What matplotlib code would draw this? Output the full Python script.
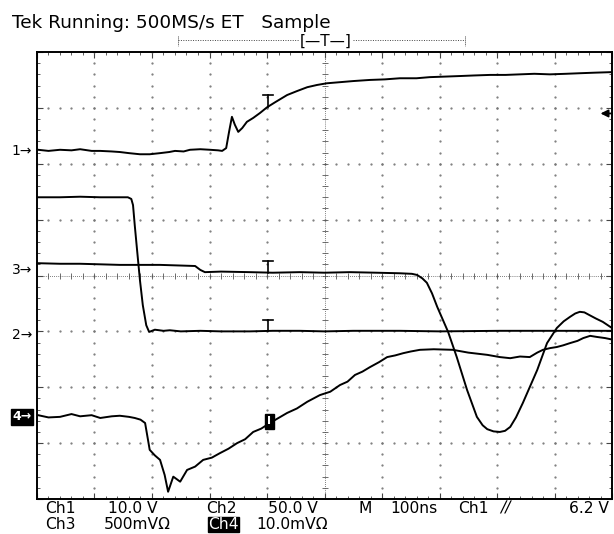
import numpy as np
import matplotlib
matplotlib.use("Agg")
import matplotlib.pyplot as plt
from matplotlib.lines import Line2D

# time in ns (100 ns/div, screen center = 0), level in divisions from screen center
ch1_t = [-498, -480, -460, -440, -425, -405, -390, -370, -356, -340, -321, -304, -286, -270, -260,
         -245, -234, -216, -199, -185, -178, -171, -166, -161, -156, -150, -143, -135, -124, -112,
         -100, -86, -65, -48, -30, -13, 4, 27, 50, 79, 105, 131, 160, 183, 210,
         236, 260, 288, 315, 340, 365, 392, 420, 444, 470, 500]
ch1_v = [2.25, 2.23, 2.25, 2.24, 2.26, 2.23, 2.23, 2.22, 2.21, 2.19, 2.17, 2.17, 2.19, 2.21, 2.23,
         2.22, 2.25, 2.26, 2.25, 2.24, 2.23, 2.28, 2.57, 2.84, 2.70, 2.57, 2.64, 2.75, 2.82, 2.91,
         3.01, 3.10, 3.23, 3.30, 3.37, 3.41, 3.44, 3.46, 3.48, 3.50, 3.51, 3.53, 3.53, 3.55, 3.56,
         3.57, 3.58, 3.59, 3.59, 3.60, 3.61, 3.60, 3.61, 3.62, 3.63, 3.64]

ch2_t = [-498, -460, -425, -390, -356, -342, -336, -333, -330, -326, -321, -316, -310, -305, -295,
         -280, -269, -250, -216, -180, -130, -90, -43, 0, 50, 131, 200, 305, 400, 500]
ch2_v = [1.40, 1.40, 1.41, 1.40, 1.40, 1.40, 1.37, 1.26, 0.90, 0.46, -0.08, -0.53, -0.89, -1.01, -0.97,
         -0.99, -0.98, -1.00, -0.99, -1.00, -1.00, -0.99, -0.99, -1.00, -0.99, -0.99, -1.00, -0.99, -0.99, -0.99]

ch3_t = [-498, -460, -425, -390, -356, -320, -286, -255, -225, -216, -208, -180, -130, -90, -43,
         0, 44, 90, 131, 152, 161, 170, 178, 187, 196, 215, 230, 248, 265, 275, 283, 294, 305, 314, 323, 333, 345,
         370, 387, 404, 416, 427, 436, 444, 452, 461, 472, 484, 500]
ch3_v = [0.22, 0.21, 0.21, 0.20, 0.19, 0.19, 0.19, 0.18, 0.17, 0.10, 0.06, 0.07, 0.06, 0.05, 0.06,
         0.05, 0.06, 0.05, 0.04, 0.03, 0.01, -0.05, -0.13, -0.32, -0.56, -1.01, -1.46, -2.05, -2.53, -2.68, -2.75, -2.79, -2.80, -2.78, -2.71, -2.54, -2.28,
         -1.69, -1.21, -0.94, -0.82, -0.74, -0.68, -0.65, -0.66, -0.71, -0.77, -0.83, -0.94]

ch4_t = [-498, -480, -460, -440, -425, -405, -390, -370, -356, -340, -330, -320, -312, -304, -295,
         -286, -278, -272, -263, -251, -239, -225, -211, -196, -182, -167, -152, -138, -124, -110,
         -95, -80, -65, -48, -30, -8, 10, 27, 40, 53, 66, 79, 95, 109, 123,
         137, 150, 166, 190, 223, 250, 283, 305, 323, 340, 357, 370, 380, 392, 404,
         415, 427, 440, 450, 462, 474, 488, 502]
ch4_v = [-2.50, -2.54, -2.53, -2.48, -2.52, -2.50, -2.55, -2.52, -2.51, -2.53, -2.55, -2.58, -2.64, -3.12, -3.22,
         -3.30, -3.57, -3.87, -3.60, -3.69, -3.48, -3.42, -3.30, -3.26, -3.18, -3.10, -3.00, -2.93, -2.80, -2.74,
         -2.64, -2.55, -2.46, -2.38, -2.26, -2.14, -2.08, -1.96, -1.90, -1.78, -1.72, -1.64, -1.55, -1.46, -1.43,
         -1.39, -1.36, -1.33, -1.32, -1.33, -1.38, -1.42, -1.46, -1.48, -1.45, -1.46, -1.38, -1.33, -1.30, -1.28,
         -1.25, -1.21, -1.17, -1.12, -1.08, -1.10, -1.12, -1.15]

# ground reference markers (divisions) and trigger level
ground_labels = ["1", "3", "2", "4"]
ground_levels = [2.23, 0.10, -1.06, -2.53]
trig_level = 2.90
t_marker = -98

W, H = 614, 534
fig = plt.figure(figsize=(W / 100, H / 100), dpi=100)
fig.patch.set_facecolor("white")
ax = fig.add_axes([37 / W, 35 / H, 575 / W, 447 / H])
ax.set_xlim(-500, 500)
ax.set_ylim(-4, 4)

# graticule: dotted division lines
dots = np.arange(-500, 501, 20)
for gx in range(-400, 401, 100):
    if gx != 0:
        ax.plot(np.full(41, gx), np.arange(-4, 4.01, 0.2), ls="none", marker=".", ms=1.2, color="#777")
for gy in range(-3, 4):
    if gy != 0:
        ax.plot(dots, np.full(len(dots), gy), ls="none", marker=".", ms=1.2, color="#777")
# center lines with cross ticks
ax.axhline(0, color="#555", lw=0.6, ls=(0, (1, 1.5)))
ax.axvline(0, color="#555", lw=0.6, ls=(0, (1, 1.5)))
ax.plot(dots, np.zeros(len(dots)), ls="none", marker="|", ms=4, mew=0.6, color="#555")
ax.plot(np.zeros(41), np.arange(-4, 4.01, 0.2), ls="none", marker="_", ms=4, mew=0.6, color="#555")

ax.set_xticks(np.arange(-500, 501, 100))
ax.set_xticks(dots, minor=True)
ax.set_yticks(np.arange(-4, 5, 1))
ax.set_yticks(np.arange(-4, 4.01, 0.2), minor=True)
ax.tick_params(which="both", direction="in", top=True, right=True,
               labelbottom=False, labelleft=False, color="#444")
ax.tick_params(which="major", length=4, width=0.8)
ax.tick_params(which="minor", length=2.5, width=0.6)
for sp in ax.spines.values():
    sp.set_linewidth(1.4)

# traces
for t, v in [(ch1_t, ch1_v), (ch2_t, ch2_v), (ch3_t, ch3_v), (ch4_t, ch4_v)]:
    ax.plot(t, v, color="black", lw=1.4, clip_on=True)

# 'T' markers on traces
for t, v in [(ch1_t, ch1_v), (ch3_t, ch3_v), (ch2_t, ch2_v)]:
    lv = np.interp(t_marker, t, v)
    ax.plot([t_marker, t_marker], [lv, lv + 0.2], color="black", lw=1.2)
    ax.plot([t_marker - 9, t_marker + 9], [lv + 0.2, lv + 0.2], color="black", lw=1.2)
lv4 = np.interp(t_marker, ch4_t, ch4_v)
ax.text(t_marker + 2, lv4 + 0.05, "I", color="white", fontsize=8, fontweight="bold",
        ha="center", va="center",
        bbox=dict(boxstyle="square,pad=0.25", fc="black", ec="black"))

# ground markers on the left
for lab, lv in zip(ground_labels, ground_levels):
    if lab == "4":
        ax.annotate("4\u2192", xy=(0, lv), xycoords=("axes fraction", "data"),
                    xytext=(-11, 0), textcoords="offset points", ha="center", va="center",
                    fontsize=9, fontweight="bold", color="white",
                    bbox=dict(boxstyle="square,pad=0.1", fc="black", ec="black"),
                    annotation_clip=False)
    else:
        ax.annotate(lab + "\u2192", xy=(0, lv), xycoords=("axes fraction", "data"),
                    xytext=(-11, 0), textcoords="offset points", ha="center", va="center",
                    fontsize=10, annotation_clip=False)

# trigger level arrow on the right
ax.annotate("", xy=(480, trig_level), xytext=(500, trig_level),
            arrowprops=dict(arrowstyle="-|>", color="black", lw=1.3, mutation_scale=11,
                            shrinkA=0, shrinkB=0),
            annotation_clip=False)

# header
def ftext(px, py, s, **kw):
    fig.text(px / W, 1 - py / H, s, **kw)

ftext(12, 28, "Tek Running: 500MS/s ET   Sample", fontsize=13.3, va="baseline")
fig.add_artist(Line2D([178 / W, 465 / W], [1 - 40 / H, 1 - 40 / H], color="#444", lw=0.7,
                      ls=(0, (1, 1.5))))
for bx in [178, 465]:
    fig.add_artist(Line2D([bx / W, bx / W], [1 - 36 / H, 1 - 46 / H], color="#444", lw=0.7,
                          ls=(0, (1, 1))))
ftext(326, 41, "[\u2014T\u2014]", fontsize=11, ha="center", va="center",
      bbox=dict(boxstyle="square,pad=0.05", fc="white", ec="none"))

# footer
row1, row2 = 513, 529
fs = 11.2
ftext(45, row1, "Ch1", fontsize=fs, va="baseline")
ftext(108, row1, "10.0 V", fontsize=fs, va="baseline")
ftext(206, row1, "Ch2", fontsize=fs, va="baseline")
ftext(268, row1, "50.0 V", fontsize=fs, va="baseline")
ftext(359, row1, "M", fontsize=fs, va="baseline")
ftext(390, row1, "100ns", fontsize=fs, va="baseline")
ftext(458, row1, "Ch1", fontsize=fs, va="baseline")
ftext(500, row1, "\u2215\u2215", fontsize=fs, va="baseline", fontstyle="italic")
ftext(609, row1, "6.2 V", fontsize=fs, va="baseline", ha="right")
ftext(45, row2, "Ch3", fontsize=fs, va="baseline")
ftext(104, row2, "500mV\u03a9", fontsize=fs, va="baseline")
ftext(208, row2, "Ch4", fontsize=fs, va="baseline", color="white",
      bbox=dict(boxstyle="square,pad=0.02", fc="black", ec="black"))
ftext(256, row2, "10.0mV\u03a9", fontsize=fs, va="baseline")

fig.savefig("out.png", dpi=100, facecolor="white")
